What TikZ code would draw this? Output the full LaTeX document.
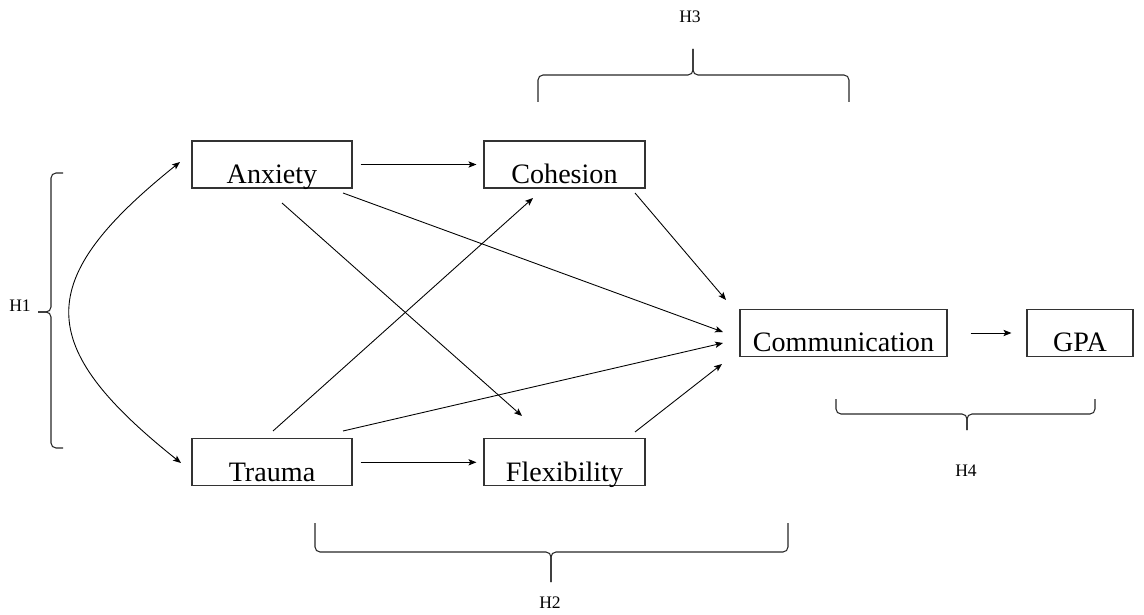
\documentclass[tikz,border=0pt]{standalone}
\usepackage{fontspec}
\setmainfont{Liberation Serif}
\usetikzlibrary{arrows.meta,calc}

\begin{document}
\begin{tikzpicture}[x=0.02cm,y=0.02cm,
  >={Stealth[length=4.5pt,width=3.6pt,inset=1pt]},
  var/.style={draw=black!80,line width=0.7pt,inner sep=0pt,minimum width=3.2cm,
    text height=0.85cm,text depth=0.09cm,font=\fontsize{16}{18}\selectfont},
  conn/.style={->,line width=0.5pt},
  hbrace/.style={black!85,line width=0.6pt,rounded corners=1mm},
  hlabel/.style={inner sep=1pt,font=\fontsize{10}{12}\selectfont}]
  \useasboundingbox (0,0) rectangle (1144,-615);
  % Define the variables
  \node[var] (anx) at (272,-164.5) {Anxiety};
  \node[var,minimum width=3.22cm] (coh) at (564.5,-164.5) {Cohesion};
  \node[var] (tra) at (272,-462.3) {Trauma};
  \node[var,minimum width=3.22cm] (flex) at (564.5,-462.3) {Flexibility};
  \node[var,minimum width=4.14cm] (comm) at (843.5,-333) {Communication};
  \node[var,minimum width=2.12cm] (gpa) at (1080,-333) {GPA};
  % Define named coordinates for the line ends
  \coordinate (anxA) at (282,-203);
  \coordinate (anxB) at (343,-193);
  \coordinate (traA) at (273,-431);
  \coordinate (traB) at (343,-431);
  \coordinate (cohA) at (533,-198);
  \coordinate (cohB) at (635,-193);
  \coordinate (flexA) at (522,-416);
  \coordinate (flexB) at (635,-432);
  \coordinate (commA) at (726,-300);
  \coordinate (commB) at (723,-332);
  \coordinate (commC) at (723,-343);
  \coordinate (commD) at (722,-364);
  \coordinate (curveA) at (180,-162);
  \coordinate (curveB) at (181,-463);
  % Draw the paths
  \draw[conn,shorten <=0.16cm,shorten >=0.14cm] (anx.east) -- (coh.west);
  \draw[conn,shorten <=0.16cm,shorten >=0.14cm] (tra.east) -- (flex.west);
  \draw[conn,shorten <=0.46cm,shorten >=0.3cm] (comm.east) -- (gpa.west);
  \foreach \s/\t in {anxA/flexA,anxB/commB,traA/cohA,traB/commC,cohB/commA,flexB/commD}
  {
    \draw[conn] (\s) -- (\t);
  }
  \draw[<->,line width=0.5pt] (curveA) .. controls (33,-280) and (33,-345) .. (curveB);
  % Draw the braces
  \draw[hbrace] (63,-173) -- (51,-173) -- (51,-312) -- (38,-312);
  \draw[hbrace] (38,-312) -- (51,-312) -- (51,-448) -- (63,-448);
  \draw[hbrace] (538,-102) -- (538,-75) -- (693,-75) -- (693,-49);
  \draw[hbrace] (693,-49) -- (693,-75) -- (849,-75) -- (849,-102);
  \draw[hbrace] (315,-523) -- (315,-552) -- (551,-552) -- (551,-582);
  \draw[hbrace] (551,-582) -- (551,-552) -- (788,-552) -- (788,-523);
  \draw[hbrace] (836,-399) -- (836,-414) -- (967,-414) -- (967,-430);
  \draw[hbrace] (967,-430) -- (967,-414) -- (1095,-414) -- (1095,-399);
  % Label the hypotheses
  \node[hlabel] (h1) at (20,-306) {H1};
  \node[hlabel] (h2) at (550,-603) {H2};
  \node[hlabel] (h3) at (690,-17) {H3};
  \node[hlabel] (h4) at (966,-471) {H4};
\end{tikzpicture}
\end{document}
